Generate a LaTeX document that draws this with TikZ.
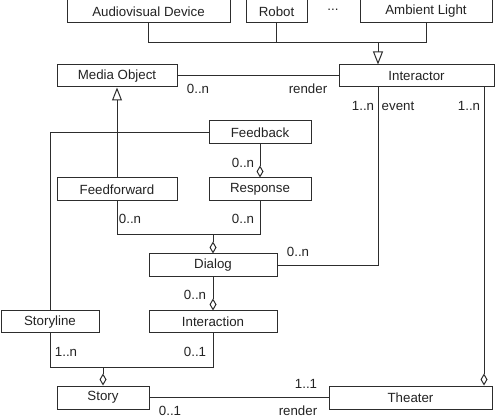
\documentclass[tikz,border=0pt]{standalone}
\usepackage{fontspec}
\setmainfont{Liberation Sans}
\usepackage{tikz}
\usetikzlibrary{arrows.meta,positioning,calc}
\usepackage{xcolor}
\definecolor{ink}{RGB}{45,45,45}
\definecolor{txt}{RGB}{35,35,35}
\tikzset{
  cls/.style={draw=ink,fill=white,line width=1pt,minimum height=23pt,inner sep=0pt,
    font=\fontsize{13.3}{16}\selectfont,text=txt},
  lbl/.style={inner sep=0pt,font=\fontsize{13.3}{16}\selectfont,text=txt},
  con/.style={draw=ink,line width=1pt},
  inh/.style={con,-{Triangle[open,length=13pt,width=10pt]}},
  agg/.style={con,-{Diamond[open,length=12pt,width=7pt]}},
}

\begin{document}
\begin{tikzpicture}[x=1pt,y=-1pt]
  \useasboundingbox (0,0) rectangle (495,419);
  % devices
  \node[cls,minimum width=163pt] (av) at (148.5,11.5) {Audiovisual Device};
  \node[cls,minimum width=61pt] (robot) at (276.5,11.5) {Robot};
  \node[lbl] (dots) at (333,10) {...};
  \node[cls,minimum width=132pt] (ambient) at (426,11.5) {Ambient Light};
  % upper classes
  \node[cls,minimum width=120pt,minimum height=22pt] (media) at (117,76) {Media Object};
  \node[cls,minimum width=155pt,minimum height=22pt] (inter) at (416.5,76) {Interactor};
  \node[cls,minimum width=102pt] (feedback) at (260,132.5) {Feedback};
  \node[cls,minimum width=120pt] (feedforward) at (117,189.5) {Feedforward};
  \node[cls,minimum width=102pt] (response) at (260,189.5) {Response};
  \node[cls,minimum width=128pt] (dialog) at (213,265.5) {Dialog};
  \node[cls,minimum width=128pt,minimum height=22pt] (interaction) at (213,322) {Interaction};
  \node[cls,minimum width=98pt,minimum height=22pt] (storyline) at (50,322) {Storyline};
  \node[cls,minimum width=92pt] (story) at (103,397.5) {Story};
  \node[cls,minimum width=163pt] (theater) at (410.5,397.5) {Theater};
  % junctions
  \coordinate (gen) at (378,43);
  \coordinate (dj) at (213,235);
  \coordinate (sj) at (103,367);
  \coordinate (tp) at (484,87);
  % generalisation of devices
  \draw[con] (av.south) |- (gen);
  \draw[con] (ambient.south) |- (gen);
  \draw[con] (robot.south) |- (gen);
  \draw[inh] (gen) -- (gen |- inter.north);
  % render
  \draw[con] (media.east) -- (inter.west);
  \node[lbl] (rm) at (198,89) {0..n};
  \node[lbl] (rr) at (308,89) {render};
  % feedforward is a media object
  \draw[inh] (feedforward.north) -- (media.south);
  \draw[con] (feedback.west) -| (storyline.north);
  \draw[agg] (feedback.south) -- (response.north);
  \node[lbl] (rf) at (243,163) {0..n};
  % dialog
  \draw[con] (feedforward.south) |- (dj);
  \draw[con] (response.south) |- (dj);
  \draw[agg] (dj) -- (dialog.north);
  \node[lbl] (df) at (130,219) {0..n};
  \node[lbl] (dr) at (243,219) {0..n};
  \draw[con] (inter.south -| gen) |- (dialog.east);
  \node[lbl] (ie) at (363,106) {1..n};
  \node[lbl] (ev) at (398,106) {event};
  \node[lbl] (de) at (298,252) {0..n};
  \draw[agg] (dialog.south) -- (interaction.north);
  \node[lbl] (di) at (195,295) {0..n};
  % story
  \draw[con] (storyline.south) |- (sj);
  \draw[con] (interaction.south) |- (sj);
  \draw[agg] (sj) -- (story.north);
  \node[lbl] (sl) at (66,352) {1..n};
  \node[lbl] (si) at (195,352) {0..1};
  % theater
  \draw[con] (story.east) -- (theater.west);
  \node[lbl] (st) at (170,411) {0..1};
  \node[lbl] (sr) at (298,411) {render};
  \node[lbl] (tt) at (306,384) {1..1};
  \draw[agg] (tp) -- (tp |- theater.north);
  \node[lbl] (it) at (469,106) {1..n};
\end{tikzpicture}
\end{document}
